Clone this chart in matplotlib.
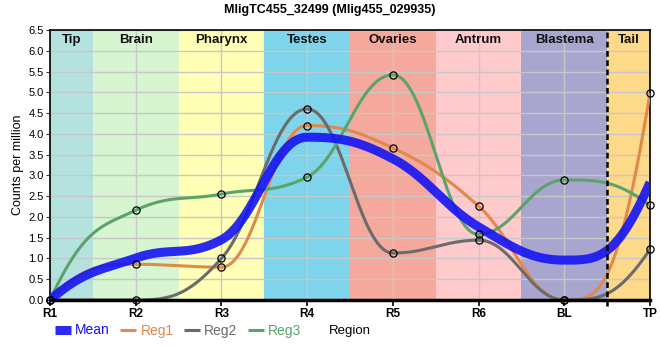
import numpy as np
import matplotlib
matplotlib.use("Agg")
import matplotlib.pyplot as plt

plt.rcParams['font.family'] = ['Liberation Sans', 'DejaVu Sans']

# ---- data ----
categories = ['R1', 'R2', 'R3', 'R4', 'R5', 'R6', 'BL', 'TP']
mean_vals = [0.0, 1.01, 1.45, 3.92, 3.40, 1.76, 0.96, 2.83]
reg1_vals = [0.0, 0.86, 0.79, 4.20, 3.66, 2.26, 0.0, 4.98]
reg2_vals = [0.0, 0.0, 1.00, 4.60, 1.13, 1.44, 0.0, 1.22]
reg3_vals = [0.0, 2.16, 2.55, 2.96, 5.42, 1.58, 2.89, 2.28]

band_names = ['Tip', 'Brain', 'Pharynx', 'Testes', 'Ovaries', 'Antrum', 'Blastema', 'Tail']
band_edges = [0, 0.5, 1.5, 2.5, 3.5, 4.5, 5.5, 6.5, 7]
band_colors = ['#b3e2df', '#d7f5d0', '#ffffb5', '#7ed4ea', '#f4a99c', '#fecacb', '#a8a6ce', '#fdd98a']
divider_pos = 6.5

title = 'MligTC455_32499 (Mlig455_029935)'


def smooth_curve(xv, yv, smoothing=1.5, n=50):
    """Spline through points with control points kept between neighbours."""
    xv = np.asarray(xv, float)
    yv = np.asarray(yv, float)
    denom = smoothing + 1.0
    N = len(xv)
    lc = [None] * N
    rc = [None] * N
    for i in range(1, N - 1):
        x, y = xv[i], yv[i]
        px, py = xv[i - 1], yv[i - 1]
        nx, ny = xv[i + 1], yv[i + 1]
        lx = (smoothing * x + px) / denom
        ly = (smoothing * y + py) / denom
        rx = (smoothing * x + nx) / denom
        ry = (smoothing * y + ny) / denom
        corr = (ry - ly) * (rx - x) / (rx - lx) + y - ry
        ly += corr
        ry += corr
        if ly > py and ly > y:
            ly = max(py, y); ry = 2 * y - ly
        elif ly < py and ly < y:
            ly = min(py, y); ry = 2 * y - ly
        if ry > ny and ry > y:
            ry = max(ny, y); ly = 2 * y - ry
        elif ry < ny and ry < y:
            ry = min(ny, y); ly = 2 * y - ry
        lc[i] = (lx, ly)
        rc[i] = (rx, ry)
    rc[0] = (xv[0] + (xv[1] - xv[0]) / denom, lc[1][1])
    lc[-1] = (xv[-1] - (xv[-1] - xv[-2]) / denom, rc[-2][1])
    t = np.linspace(0, 1, n)
    X, Y = [], []
    for i in range(N - 1):
        p0 = (xv[i], yv[i]); p1 = rc[i]; p2 = lc[i + 1]; p3 = (xv[i + 1], yv[i + 1])
        b0 = (1 - t) ** 3; b1 = 3 * (1 - t) ** 2 * t; b2 = 3 * (1 - t) * t ** 2; b3 = t ** 3
        X.append(b0 * p0[0] + b1 * p1[0] + b2 * p2[0] + b3 * p3[0])
        Y.append(b0 * p0[1] + b1 * p1[1] + b2 * p2[1] + b3 * p3[1])
    return np.concatenate(X), np.concatenate(Y)


fig = plt.figure(figsize=(6.6, 3.6), dpi=100)
ax = fig.add_axes([50 / 660, 60 / 360, 600 / 660, 270 / 360])

xpos = np.arange(len(categories))

# background bands
for i, name in enumerate(band_names):
    ax.axvspan(band_edges[i], band_edges[i + 1], color=band_colors[i], zorder=0, lw=0)
    ax.text((band_edges[i] + band_edges[i + 1]) / 2, 6.26, name, ha='center', va='center',
            fontsize=9.5, fontweight='bold', color='#111111', zorder=6)

ax.set_axisbelow(True)
ax.grid(True, color='#c8c8c8', lw=1.0)

series = [
    ('Reg1', reg1_vals, '#e0894a', 2.2),
    ('Reg2', reg2_vals, '#6b6b6b', 2.2),
    ('Reg3', reg3_vals, '#5aa46a', 2.2),
]
handles = {}
for name, vals, col, lw in series:
    cx, cy = smooth_curve(xpos, vals)
    ln, = ax.plot(cx, cy, color=col, lw=lw, zorder=3, solid_capstyle='butt')
    ax.plot(xpos, vals, ls='none', marker='o', ms=5.2, mfc='none', mec='black', mew=0.9,
            zorder=5, clip_on=False)
    handles[name] = ln

mx, my = smooth_curve(xpos, mean_vals)
mln, = ax.plot(mx, my, color='#1414f5', lw=6.5, alpha=0.9, zorder=4, solid_capstyle='butt')
handles['Mean'] = mln

ax.axvline(divider_pos, ymin=-0.022, ymax=1, color='black', lw=1.8, ls=(0, (2.3, 1.4)),
           zorder=6, clip_on=False)

ax.set_xlim(0, 7)
ax.set_ylim(0, 6.5)
ax.set_xticks(xpos)
ax.set_xticklabels(categories, fontsize=8.5, fontweight='bold')
ax.set_yticks(np.arange(0, 6.51, 0.5))
ax.set_yticklabels([f'{v:.1f}' for v in np.arange(0, 6.51, 0.5)], fontsize=8)
ax.tick_params(axis='y', length=3, width=0.8, color='#333333', pad=1.5)
ax.tick_params(axis='x', length=4, width=1.2, color='black', pad=2)

for s in ['left', 'right', 'top']:
    ax.spines[s].set_color('black')
    ax.spines[s].set_linewidth(1.2)
ax.spines['bottom'].set_linewidth(2.5)
ax.spines['bottom'].set_zorder(7)

ax.set_ylabel('Counts per million', fontsize=9)
ax.yaxis.set_label_coords(-(50 - 24) / 600, 0.5)
ax.set_xlabel('Region', fontsize=9.5)
ax.xaxis.set_label_coords((350 - 50) / 600, -(331 - 300) / 270)
ax.xaxis.label.set_va('center')

fig.suptitle(title, x=330 / 660, y=1 - 10 / 360, va='center', fontsize=9, fontweight='bold')

names = ['Mean', 'Reg1', 'Reg2', 'Reg3']
fig.legend([handles[n] for n in names], names, loc='center left',
           bbox_to_anchor=(55 / 660, 1 - 330.5 / 360), bbox_transform=fig.transFigure,
           ncol=4, frameon=False, borderpad=0, borderaxespad=0, handlelength=1.15,
           handletextpad=0.3, columnspacing=0.75, labelcolor='linecolor',
           prop={'size': 10})

fig.savefig('out.png', dpi=100)
